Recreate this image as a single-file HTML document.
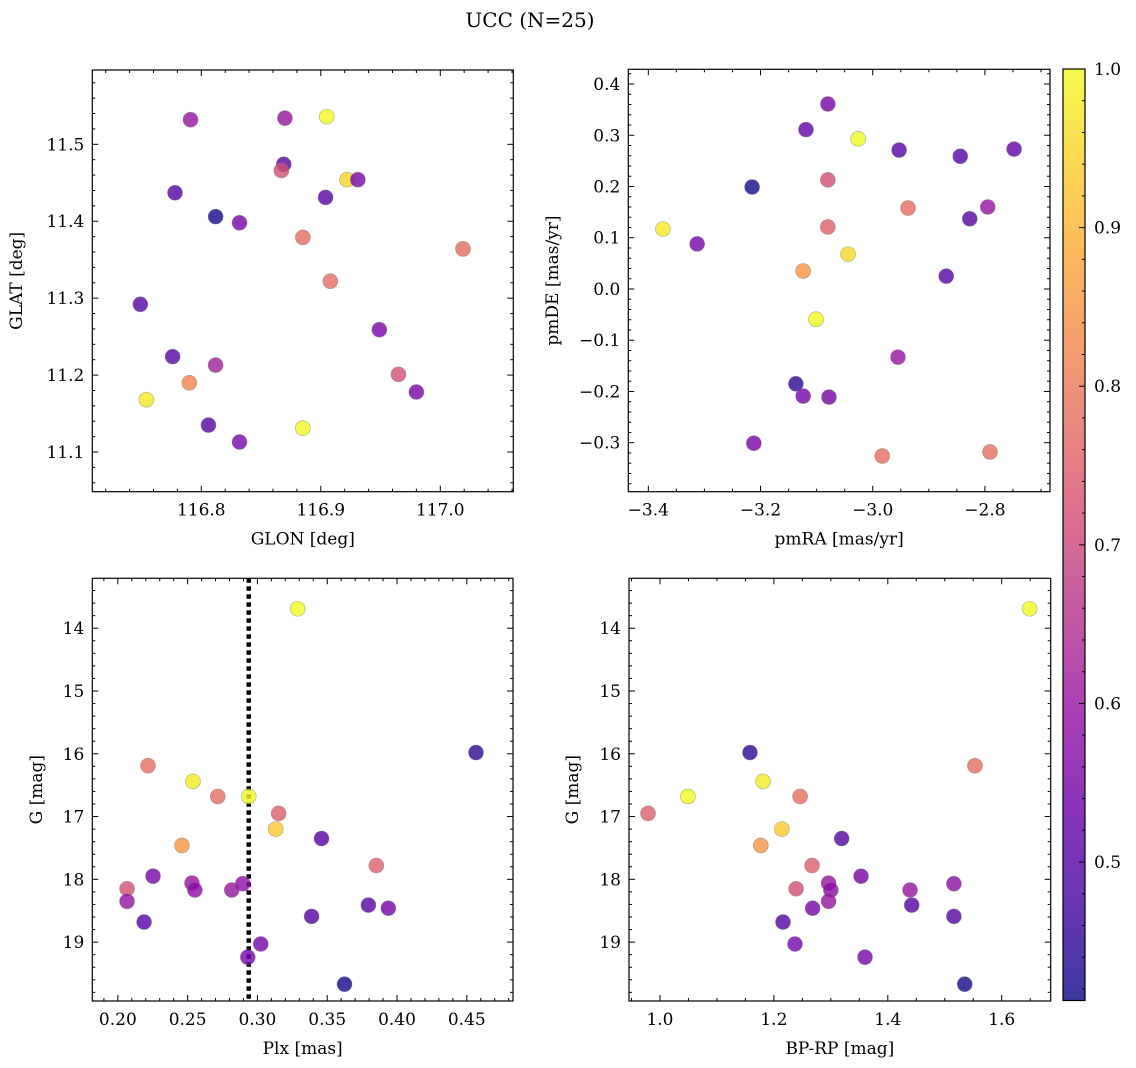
<!DOCTYPE html>
<html><head><meta charset="utf-8"><title>UCC (N=25)</title>
<style>
html,body{margin:0;padding:0;background:#fff;}
svg{display:block;font-family:"DejaVu Serif","Liberation Serif",serif;}
</style></head>
<body>
<svg id="chart" width="1136" height="1068" viewBox="0 0 1136 1068" xmlns="http://www.w3.org/2000/svg">
<text x="530" y="27" font-size="20" text-anchor="middle">UCC (N=25)</text>
</svg>
<script>
// ---- data ----
const glon = [116.791,116.870,116.905,116.869,116.867,116.922,116.931,116.778,116.904,116.812,116.832,116.885,117.019,116.908,116.749,116.949,116.776,116.812,116.965,116.790,116.980,116.754,116.806,116.885,116.832];
const glat = [11.532,11.534,11.536,11.474,11.466,11.454,11.454,11.437,11.431,11.406,11.398,11.379,11.364,11.322,11.292,11.259,11.224,11.213,11.201,11.190,11.178,11.168,11.135,11.131,11.113];
const cTop1 = [0.6,0.6,1.0,0.5,0.72,0.95,0.55,0.5,0.5,0.42,0.55,0.78,0.78,0.78,0.5,0.55,0.5,0.62,0.72,0.82,0.55,0.98,0.5,1.0,0.55];
const pmra = [-3.080,-3.119,-3.026,-2.953,-2.844,-2.748,-3.215,-3.080,-2.937,-2.827,-2.795,-3.080,-3.374,-3.313,-3.044,-3.124,-2.869,-3.101,-2.955,-3.137,-3.124,-3.078,-3.212,-2.983,-2.791];
const pmde = [0.361,0.311,0.293,0.271,0.259,0.273,0.199,0.213,0.158,0.137,0.160,0.121,0.117,0.088,0.068,0.035,0.025,-0.059,-0.133,-0.185,-0.209,-0.211,-0.301,-0.326,-0.318];
const cTop2 = [0.55,0.52,1.0,0.5,0.5,0.52,0.42,0.72,0.78,0.5,0.6,0.75,0.98,0.55,0.95,0.85,0.5,1.0,0.6,0.45,0.55,0.55,0.55,0.78,0.78];
const plx = [0.3288,0.4566,0.2216,0.2538,0.2716,0.2938,0.3152,0.3131,0.2459,0.3459,0.3852,0.2252,0.2531,0.2895,0.2066,0.2552,0.2816,0.2066,0.3795,0.3938,0.3388,0.2188,0.3024,0.2931,0.3624];
const gmag = [13.69,15.98,16.19,16.44,16.68,16.68,16.95,17.20,17.46,17.35,17.78,17.95,18.06,18.07,18.15,18.17,18.17,18.35,18.41,18.46,18.59,18.68,19.03,19.24,19.67];
const bprp = [1.649,1.158,1.553,1.181,1.246,1.049,0.979,1.214,1.177,1.319,1.267,1.353,1.296,1.516,1.239,1.300,1.439,1.296,1.442,1.268,1.516,1.216,1.237,1.360,1.535];
const cBottom = [1.0,0.45,0.78,0.98,0.78,1.0,0.75,0.93,0.85,0.5,0.75,0.55,0.6,0.58,0.72,0.58,0.6,0.6,0.5,0.55,0.5,0.5,0.55,0.55,0.42];
const plxLine = [0.2938];
const ticksGlon = [116.8,116.9,117.0];
const ticksGlat = [11.1,11.2,11.3,11.4,11.5];
const ticksPmra = [-3.4,-3.2,-3.0,-2.8];
const ticksPmde = [-0.3,-0.2,-0.1,0.0,0.1,0.2,0.3,0.4];
const ticksPlx = [0.20,0.25,0.30,0.35,0.40,0.45];
const ticksG = [14,15,16,17,18,19];
const ticksBprp = [1.0,1.2,1.4,1.6];
const ticksCbar = [0.5,0.6,0.7,0.8,0.9,1.0];
const cmin = 0.4127, cmax = 1.0;

const NS = "http://www.w3.org/2000/svg";
const svg = document.getElementById('chart');
function mk(tag, attrs, parent){
  const e = document.createElementNS(NS, tag);
  for (const k in attrs) e.setAttribute(k, attrs[k]);
  (parent||svg).appendChild(e);
  return e;
}
const stops = ["#0d0887","#41049d","#6a00a8","#8f0da4","#b12a90","#cc4778","#e16462","#f2844b","#fca636","#fcce25","#f0f921"];
function hex(h){return [parseInt(h.substr(1,2),16),parseInt(h.substr(3,2),16),parseInt(h.substr(5,2),16)];}
function plasma(t){
  t=Math.max(0,Math.min(1,t)); const p=t*10; const i=Math.min(9,Math.floor(p)); const f=p-i;
  const a=hex(stops[i]), b=hex(stops[i+1]);
  return 'rgb('+a.map((v,j)=>Math.round(v+(b[j]-v)*f)).join(',')+')';
}
function cnorm(c){return (c-cmin)/(cmax-cmin);}

function fmt(v, d){ let s=v.toFixed(d); if (v<0) s='\u2212'+(-v).toFixed(d); return s; }

function panel(opt){
  const g = mk('g', {});
  
  
  const L=opt.x0, R=opt.x1, T=opt.y0, B=opt.y1;
  const sx = v => L + (v-opt.xd[0])/(opt.xd[1]-opt.xd[0])*(R-L);
  const sy = v => B - (v-opt.yd[0])/(opt.yd[1]-opt.yd[0])*(B-T);
  const yInv = opt.yInvert;
  const syy = yInv ? (v => T + (v-opt.yd[0])/(opt.yd[1]-opt.yd[0])*(B-T)) : sy;
  const tg = mk('g', {stroke:'#000','stroke-width':1}, g);
  
  
  const xlo=Math.min(...opt.xd), xhi=Math.max(...opt.xd), ylo=Math.min(...opt.yd), yhi=Math.max(...opt.yd);
  for (let v=Math.ceil(xlo/opt.xm-1e-9)*opt.xm; v<=xhi+1e-9; v+=opt.xm){
    const x=sx(v); const maj = opt.xt.some(t=>Math.abs(t-v)<opt.xm/3); const l=maj?6:3;
    mk('line',{x1:x,y1:B,x2:x,y2:B-l},tg); mk('line',{x1:x,y1:T,x2:x,y2:T+l},tg);
  }
  for (let v=Math.ceil(ylo/opt.ym-1e-9)*opt.ym; v<=yhi+1e-9; v+=opt.ym){
    const y=syy(v); const maj = opt.yt.some(t=>Math.abs(t-v)<opt.ym/3); const l=maj?6:3;
    mk('line',{x1:L,y1:y,x2:L+l,y2:y},tg); mk('line',{x1:R,y1:y,x2:R-l,y2:y},tg);
  }
  opt.xt.forEach(v=>{
    const t=mk('text',{x:sx(v),y:B+24,'font-size':17,'text-anchor':'middle'},g); t.textContent=fmt(v,opt.xdp);
     
  });
  opt.yt.forEach(v=>{
    const t=mk('text',{x:L-8,y:syy(v)+6,'font-size':17,'text-anchor':'end'},g); t.textContent=fmt(v,opt.ydp);
     
  });
  const xl=mk('text',{x:(L+R)/2,y:B+53,'font-size':17,'text-anchor':'middle'},g); xl.textContent=opt.xlab;
   
  const yx=opt.ylx, yy=(T+B)/2;
  const yl=mk('text',{x:yx,y:yy,'font-size':17,'text-anchor':'middle',transform:'rotate(-90 '+yx+' '+yy+')'},g); yl.textContent=opt.ylab;
   
  if (opt.vline){
    opt.vline.forEach(v=>{
      const ln=mk('line',{x1:sx(v),y1:T,x2:sx(v),y2:B,stroke:'#000','stroke-width':4.5,'stroke-dasharray':'4.5 3.5'},g);
       
    });
  }
  const pg = mk('g',{},g);
  
  
  for (let i=0;i<opt.xs.length;i++){
    const c=mk('circle',{cx:sx(opt.xs[i]),cy:syy(opt.ys[i]),r:7.5,fill:plasma(cnorm(opt.cs[i])),'fill-opacity':0.8,stroke:'#777','stroke-opacity':0.6,'stroke-width':0.6},pg);
    
    
  }
  const fr=mk('rect',{x:L,y:T,width:R-L,height:B-T,fill:'none',stroke:'#000','stroke-width':1.2},g);
   
}

panel({name:'glon-glat-panel',x0:92.3,x1:513.3,y0:70,y1:491.7,xd:[116.7088,117.0611],yd:[11.0484,11.5966],
  xt:ticksGlon,yt:ticksGlat,xm:0.02,ym:0.02,xdp:1,ydp:1,xs:glon,ys:glat,cs:cTop1,xlab:'GLON [deg]',ylab:'GLAT [deg]',ylx:22});
panel({name:'pm-panel',x0:628.3,x1:1050,y0:69.3,y1:491.7,xd:[-3.4357,-2.684],yd:[-0.3956,0.4287],
  xt:ticksPmra,yt:ticksPmde,xm:0.05,ym:0.02,xdp:1,ydp:1,xs:pmra,ys:pmde,cs:cTop2,xlab:'pmRA [mas/yr]',ylab:'pmDE [mas/yr]',ylx:558});
panel({name:'plx-g-panel',x0:92.3,x1:513,y0:578.3,y1:1001,xd:[0.1817,0.4831],yd:[13.205,19.938],yInvert:true,
  xt:ticksPlx,yt:ticksG,xm:0.01,ym:0.2,xdp:2,ydp:0,xs:plx,ys:gmag,cs:cBottom,xlab:'Plx [mas]',ylab:'G [mag]',ylx:42,vline:plxLine});
panel({name:'cmd-panel',x0:629,x1:1050.7,y0:578.3,y1:1001,xd:[0.9456,1.686],yd:[13.205,19.938],yInvert:true,
  xt:ticksBprp,yt:ticksG,xm:0.05,ym:0.2,xdp:1,ydp:0,xs:bprp,ys:gmag,cs:cBottom,xlab:'BP-RP [mag]',ylab:'G [mag]',ylx:578});

const cb = mk('g',{});


const CX0=1063, CX1=1085, CT=69, CB=1000.5;
const defs=mk('defs',{},cb);
const lg=mk('linearGradient',{id:'cbg',x1:0,y1:1,x2:0,y2:0},defs);
for (let k=0;k<=20;k++){ mk('stop',{offset:k/20,'stop-color':plasma(k/20),'stop-opacity':0.8},lg); }
const cr=mk('rect',{x:CX0,y:CT,width:CX1-CX0,height:CB-CT,fill:'url(#cbg)',stroke:'#000','stroke-width':1.2},cb);
 
const cy = v => CB - (v-cmin)/(cmax-cmin)*(CB-CT);
for (let v=0.42; v<=1.0+1e-9; v+=0.02){
  const maj = ticksCbar.some(t=>Math.abs(t-v)<0.005);
  mk('line',{x1:CX1,y1:cy(v),x2:CX1-(maj?6:3),y2:cy(v),stroke:'#000','stroke-width':1},cb);
}
ticksCbar.forEach(v=>{
  const t=mk('text',{x:1094,y:cy(v)+6,'font-size':17},cb); t.textContent=v.toFixed(1);
   
});
</script>
</body></html>
